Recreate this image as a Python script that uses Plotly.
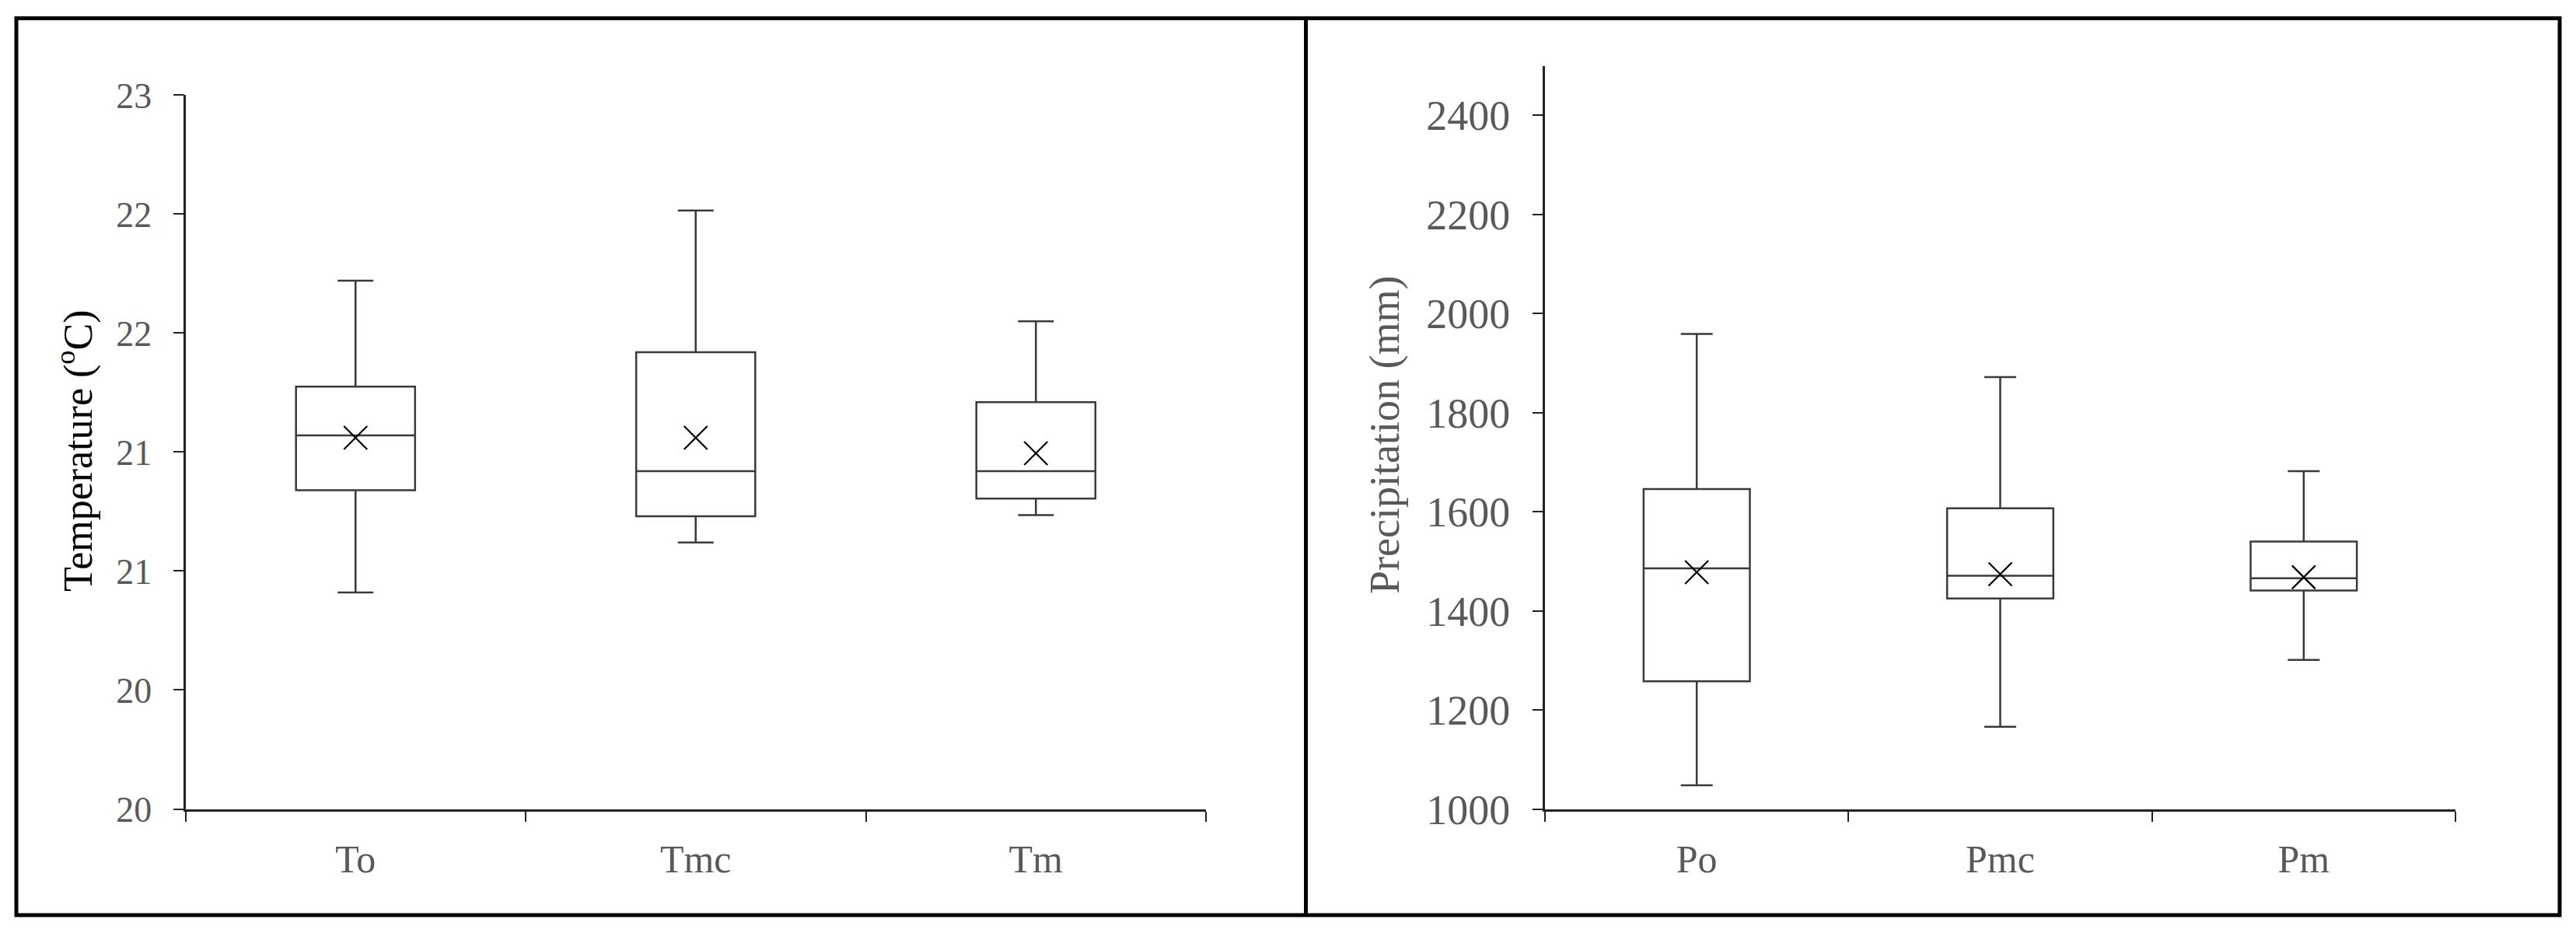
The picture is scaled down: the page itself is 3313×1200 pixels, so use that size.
import plotly.graph_objects as go

# temperature panel (degC)
temp_cats = ['To', 'Tmc', 'Tm']
temp_low = [20.91, 21.12, 21.235]
temp_q1 = [21.34, 21.23, 21.305]
temp_median = [21.57, 21.42, 21.42]
temp_q3 = [21.775, 21.92, 21.71]
temp_high = [22.22, 22.515, 22.05]
temp_mean = [21.56, 21.56, 21.495]
temp_tickvals = [20, 20.5, 21, 21.5, 22, 22.5, 23]
temp_ticktext = ['20', '20', '21', '21', '22', '22', '23']

# precipitation panel (mm)
prec_cats = ['Po', 'Pmc', 'Pm']
prec_low = [1048, 1166, 1301]
prec_q1 = [1258, 1425, 1441]
prec_median = [1486, 1471, 1466]
prec_q3 = [1646, 1607, 1540]
prec_high = [1959, 1872, 1682]
prec_mean = [1478, 1474, 1468]
prec_tickvals = [1000, 1200, 1400, 1600, 1800, 2000, 2200, 2400]

W, H = 3313, 1200
OFF = 8  # the page body adds 8px around the plot
FONT = 'Liberation Serif'
LINE = '#3a3a3a'
GREY = '#595959'


def px(x):
    return (x - OFF) / W


def py(y):
    return 1 - (y - OFF) / H


def add_panel(fig, cats, low, q1, med, q3, high, mean, xa, ya):
    fig.add_trace(go.Box(
        x=cats, lowerfence=low, q1=q1, median=med, q3=q3, upperfence=high,
        fillcolor='white', line=dict(color=LINE, width=2.5),
        whiskerwidth=0.3, boxpoints=False, showlegend=False,
        xaxis=xa, yaxis=ya, hoverinfo='skip'))
    # mean shown as an X like in excel
    fig.add_trace(go.Scatter(
        x=cats, y=mean, mode='markers', showlegend=False,
        marker=dict(symbol='x-thin-open', size=30, color='black',
                    line=dict(color='black', width=2.2)),
        xaxis=xa, yaxis=ya, hoverinfo='skip'))


fig = go.Figure()
add_panel(fig, temp_cats, temp_low, temp_q1, temp_median, temp_q3, temp_high, temp_mean, 'x', 'y')
add_panel(fig, prec_cats, prec_low, prec_q1, prec_median, prec_q3, prec_high, prec_mean, 'x2', 'y2')

xcommon = dict(type='category', range=[-0.5, 2.5], showline=True, linecolor='#222222', linewidth=3,
               ticks='outside', tickson='boundaries', ticklen=13, tickwidth=2, tickcolor='#222222',
               showgrid=False, zeroline=False, automargin=False,
               tickfont=dict(family=FONT, size=50, color=GREY), ticklabelstandoff=18)
ycommon = dict(showline=True, linecolor='#222222', linewidth=3, ticks='outside', ticklen=13,
               tickwidth=2, tickcolor='#222222', showgrid=False, zeroline=False,
               automargin=False, ticklabelstandoff=18)

fig.update_layout(
    template='none',
    width=W, height=H,
    margin=dict(l=0, r=0, t=0, b=0, pad=0),
    plot_bgcolor='white', paper_bgcolor='white',
    boxgap=0.5,
    xaxis=dict(xcommon, domain=[px(238.5), px(1551)], anchor='y'),
    yaxis=dict(ycommon, domain=[py(1040.5), py(122.4)], anchor='x',
               range=[20, 23], tickvals=temp_tickvals, ticktext=temp_ticktext,
               tickfont=dict(family=FONT, size=46, color=GREY)),
    xaxis2=dict(xcommon, domain=[px(1987), px(3158)], anchor='y2'),
    yaxis2=dict(ycommon, domain=[py(1040.6), py(84.7)], anchor='x2',
                range=[1000, 2500], tickvals=prec_tickvals,
                tickfont=dict(family=FONT, size=54, color=GREY)),
)

# axis titles placed by hand
fig.add_annotation(text='Temperature (<sup>o</sup>C)', xref='paper', yref='paper',
                   x=px(97), y=py(580), xanchor='center', yanchor='middle',
                   textangle=-90, showarrow=False,
                   font=dict(family=FONT, size=52, color='black'))
fig.add_annotation(text='Precipitation (mm)', xref='paper', yref='paper',
                   x=px(1781), y=py(560), xanchor='center', yanchor='middle',
                   textangle=-90, showarrow=False,
                   font=dict(family=FONT, size=54, color=GREY))

# frame around the two panels and the divider
fig.add_shape(type='rect', xref='paper', yref='paper',
              x0=px(21), x1=px(3292), y0=py(1177), y1=py(23.5),
              line=dict(color='black', width=5))
fig.add_shape(type='line', xref='paper', yref='paper',
              x0=px(1679.5), x1=px(1679.5), y0=py(1177), y1=py(23.5),
              line=dict(color='black', width=5))

fig.write_html('out.html')
